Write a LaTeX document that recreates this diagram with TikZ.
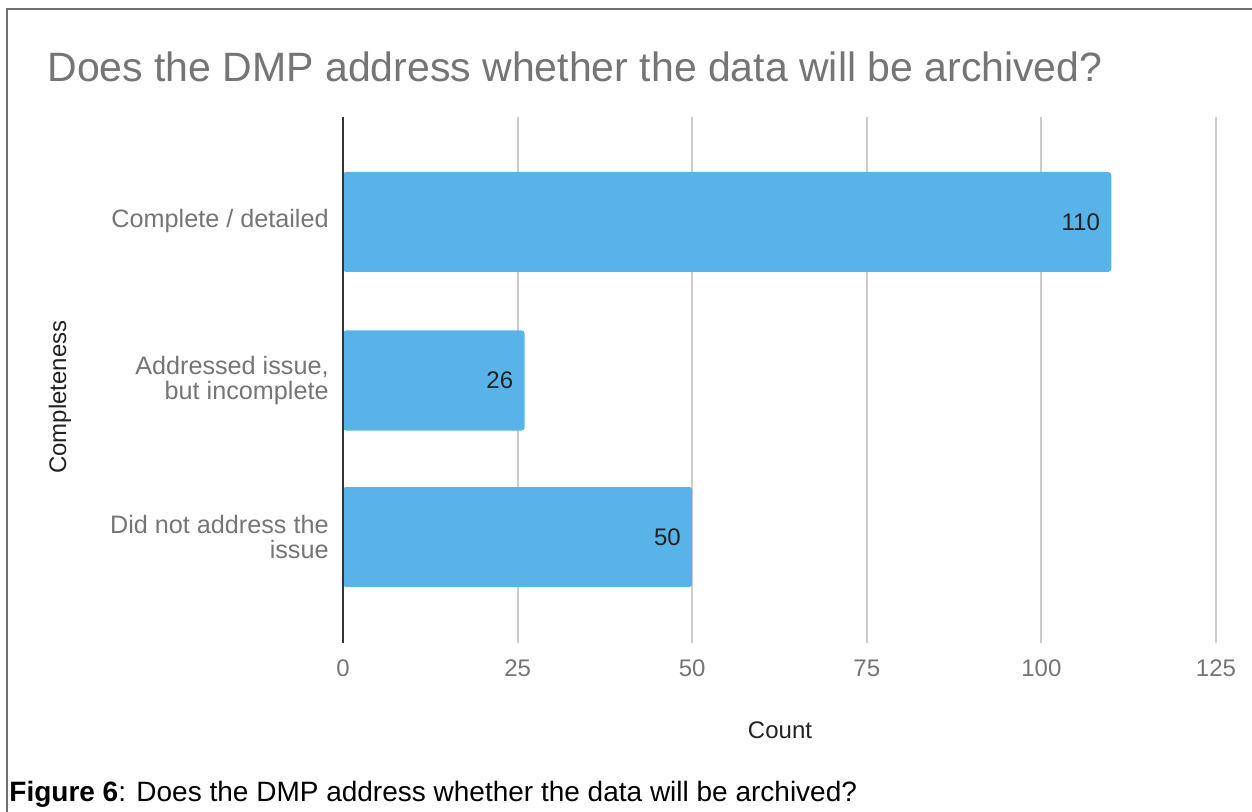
\documentclass[tikz,border=0pt]{standalone}
\usepackage{fontspec}
\setmainfont{Liberation Sans}
\usepackage{tikz}
\usetikzlibrary{positioning}

\definecolor{chartgray}{HTML}{757575}
\definecolor{titledark}{HTML}{222222}
\definecolor{gridgray}{HTML}{CCCCCC}
\definecolor{axisgray}{HTML}{333333}
\definecolor{barblue}{HTML}{57B3E8}
\definecolor{framegray}{HTML}{707070}

\begin{document}
\begin{tikzpicture}[
    x=0.5pt, y=-0.5pt,
    ticklabel/.style={text=chartgray, font=\fontsize{12}{14}\selectfont, anchor=base, inner sep=0pt},
    catlabel/.style={text=chartgray, font=\fontsize{12.6}{12.5}\selectfont, align=right, anchor=east, inner sep=0pt},
    vallabel/.style={text=titledark, font=\fontsize{12}{14}\selectfont, anchor=east, inner sep=0pt},
    axistitle/.style={text=titledark, font=\fontsize{12}{14}\selectfont, inner sep=0pt},
    barbox/.style={fill=barblue, rounded corners=1.5pt},
    gridline/.style={gridgray, line width=1pt}
]
    \useasboundingbox (0,0) rectangle (1252,812);

    % Frame around the chart
    \draw[framegray, line width=1pt] (7,812) -- (7,9) -- (1252,9);

    % Title
    \node[anchor=base west, inner sep=0pt, text=chartgray, font=\fontsize{20.5}{24}\selectfont] (title) at (47,82)
        {Does the DMP address whether the data will be archived?};

    % Grid and tick labels
    \foreach \v in {25,50,...,125} {
        \draw[gridline] ({343+6.984*\v},117) -- ({343+6.984*\v},643);
    }
    \foreach \v in {0,25,...,125} {
        \node[ticklabel] (tick\v) at ({343+6.984*\v},676) {\v};
    }

    % Bars with their values
    \foreach \val/\yc/\n in {110/222/1, 26/380.5/2, 50/537/3} {
        \fill[barbox] (343,\yc-50) rectangle ({343+6.984*\val},\yc+50);
        \node[vallabel] (val\n) at ({332+6.984*\val},\yc) {\val};
    }

    % Axis line
    \draw[axisgray, line width=1pt] (343,117) -- (343,643);

    % Category labels
    \node[catlabel] (cat1) at (329,221) {Complete / detailed};
    \node[catlabel] (cat2) at (329,380) {Addressed issue,\\but incomplete};
    \node[catlabel] (cat3) at (329,537) {Did not address the\\issue};

    % Axis titles
    \node[axistitle] (xtitle) at (780,730) {Count};
    \node[axistitle, rotate=90] (ytitle) at (60,397) {Completeness};

    % Caption
    \node[anchor=base west, inner sep=0pt, font=\fontsize{14}{16}\selectfont] (caption) at (9,801)
        {\textbf{Figure 6}: Does the DMP address whether the data will be archived?};
\end{tikzpicture}
\end{document}
